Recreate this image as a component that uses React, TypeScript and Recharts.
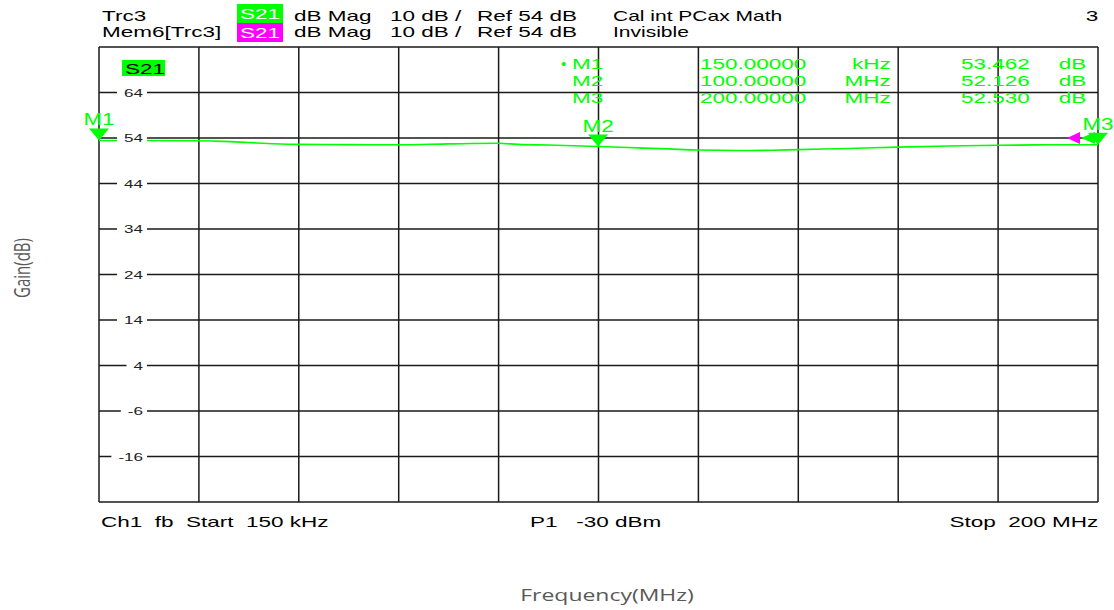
import { LineChart, Line, XAxis, YAxis, ReferenceDot, ReferenceLine } from "recharts";

const W = 1114;
const H = 610;

// trace Trc3 / S21 (frequency in MHz, gain in dB)
const freqMHz = [0.15, 10, 20, 25, 30, 35, 40, 50, 60, 70, 80, 84, 90, 100, 106, 114, 120, 130, 135, 140, 150, 160, 170, 180, 190, 200];
const gainDb = [53.46, 53.44, 53.38, 53.25, 53.0, 52.75, 52.6, 52.55, 52.5, 52.7, 52.85, 52.6, 52.45, 52.13, 51.9, 51.6, 51.35, 51.25, 51.3, 51.45, 51.7, 52.0, 52.25, 52.4, 52.5, 52.53];

// 10 divisions, start 150 kHz / stop 200 MHz, 10 dB/div around ref 54 dB
const freqGrid = [0.15, 20.135, 40.12, 60.105, 80.09, 100.075, 120.06, 140.045, 160.03, 180.015, 200];
const gainGrid = [-26, -16, -6, 4, 14, 24, 34, 44, 54, 64, 74];
const gainLabels = [-16, -6, 4, 14, 24, 34, 44, 54, 64];
const refLevel = 54;

const markerNames = ["M1", "M2", "M3"];
const markerFreqs = [0.15, 100, 200];
const markerGains = [53.462, 52.126, 52.53];
const markerFreqText = ["150.00000", "100.00000", "200.00000"];
const markerUnits = ["kHz", "MHz", "MHz"];
const markerValueText = ["53.462", "52.126", "52.530"];

const data = freqMHz.map((f, i) => ({ f, g: gainDb[i] }));

const GREEN = "#00ff00";
const MAGENTA = "#ff00ff";
const GRID = "#1a1a1a";
const SANS = "'Liberation Sans', Arial, sans-serif";
const SX = 1.5;

// grid value label sitting on its grid line, with a white gap behind it
const GainLabel = ({ cx, cy, value }: any) => {
  const s = String(value);
  const neg = s.startsWith("-") ? 1 : 0;
  const w = ((s.length - neg) * 6.12 + neg * 3.66) * 1.55;
  const right = cx + 44;
  return (
    <g>
      <rect x={right - w - 7} y={cy - 4} width={w + 11} height={8} fill="#fff" />
      <text
        transform={`translate(${right},${cy + 4}) scale(1.55,1)`}
        textAnchor="end"
        fontSize={11}
        fontFamily={SANS}
        fill="#222"
      >
        {s}
      </text>
    </g>
  );
};

const MarkerFlag = ({ cx, cy, name }: any) => (
  <g>
    <polygon points={`${cx - 10},${cy - 12} ${cx + 10},${cy - 12} ${cx},${cy}`} fill={GREEN} />
    <text
      transform={`translate(${cx},${cy - 15}) scale(1.4,1)`}
      textAnchor="middle"
      fontSize={16}
      fontFamily={SANS}
      fill={GREEN}
    >
      {name}
    </text>
  </g>
);

const RefFlag = ({ cx, cy }: any) => (
  <g>
    <polygon points={`${cx - 17},${cy} ${cx - 3},${cy - 6} ${cx - 3},${cy + 6}`} fill={GREEN} />
    <polygon points={`${cx - 31},${cy} ${cx - 18},${cy - 6} ${cx - 18},${cy + 6}`} fill={MAGENTA} />
  </g>
);

const Txt = ({ x, y, text, align = "left", color = "#000", size = 15, sx = SX, font = SANS }: any) => (
  <div
    style={{
      position: "absolute",
      top: y - 0.13 * size,
      ...(align === "left" ? { left: x } : { right: W - x }),
      transform: `scaleX(${sx})`,
      transformOrigin: align === "left" ? "left top" : "right top",
      whiteSpace: "pre",
      fontFamily: font,
      fontSize: size,
      lineHeight: 1,
      color,
    }}
  >
    {text}
  </div>
);

const Tag = ({ x, y, w, h, bg, color, text }: any) => (
  <div style={{ position: "absolute", left: x, top: y, width: w, height: h, background: bg }}>
    <Txt x={3} y={(h - 11) / 2} text={text} color={color} />
  </div>
);

export default function App() {
  return (
    <div style={{ position: "absolute", left: 0, top: 0, width: W, height: H, background: "#fff", overflow: "hidden" }}>
      <LineChart width={W} height={H} data={data} margin={{ top: 47, right: 16, bottom: 108, left: 99 }}>
        <XAxis
          type="number"
          dataKey="f"
          domain={[0.15, 200]}
          ticks={freqGrid}
          tick={false}
          tickLine={false}
          axisLine={false}
          height={0}
          allowDataOverflow
        />
        <YAxis
          type="number"
          domain={[-26, 74]}
          ticks={gainGrid}
          interval={0}
          width={0}
          tick={false}
          tickLine={false}
          axisLine={false}
          allowDataOverflow
        />
        {freqGrid.map((f) => (
          <ReferenceLine key={`v${f}`} x={f} stroke={GRID} strokeWidth={1.5} ifOverflow="visible" />
        ))}
        {gainGrid.map((v) => (
          <ReferenceLine key={`h${v}`} y={v} stroke={GRID} strokeWidth={1.5} ifOverflow="visible" />
        ))}
        {gainLabels.map((v) => (
          <ReferenceDot
            key={`l${v}`}
            x={0.15}
            y={v}
            r={0}
            ifOverflow="visible"
            shape={(p: any) => <GainLabel {...p} value={v} />}
          />
        ))}
        <Line type="monotone" dataKey="g" stroke={GREEN} strokeWidth={1.6} dot={false} isAnimationActive={false} />
        <ReferenceDot x={200} y={refLevel} r={0} ifOverflow="visible" shape={(p: any) => <RefFlag {...p} />} />
        {markerNames.map((name, i) => (
          <ReferenceDot
            key={name}
            x={markerFreqs[i]}
            y={markerGains[i]}
            r={0}
            ifOverflow="visible"
            shape={(p: any) => <MarkerFlag {...p} name={name} />}
          />
        ))}
      </LineChart>

      <div style={{ position: "absolute", left: 0, top: 0, width: W, height: H, pointerEvents: "none" }}>
        {/* header */}
        <Txt x={102} y={10} text="Trc3" />
        <Tag x={237} y={4} w={46} h={19} bg={GREEN} color="#fff" text="S21" />
        <Txt x={294} y={10} text="dB Mag" />
        <Txt x={390} y={10} text="10 dB /" />
        <Txt x={477} y={10} text="Ref 54 dB" />
        <Txt x={613} y={10} text="Cal int PCax Math" sx={1.4} />
        <Txt x={1098} y={10} text="3" align="right" />
        <Txt x={102} y={26} text="Mem6[Trc3]" />
        <Tag x={237} y={23} w={46} h={19} bg={MAGENTA} color="#fff" text="S21" />
        <Txt x={294} y={26} text="dB Mag" />
        <Txt x={390} y={26} text="10 dB /" />
        <Txt x={477} y={26} text="Ref 54 dB" />
        <Txt x={613} y={26} text="Invisible" sx={1.4} />

        {/* trace tag + marker table */}
        <Tag x={122} y={60} w={43} h={16} bg={GREEN} color="#000" text="S21" />
        {markerNames.map((name, i) => (
          <div key={name}>
            {i === 0 && <Txt x={561} y={58} text="•" color={GREEN} sx={1} />}
            <Txt x={572} y={58 + i * 17} text={name} color={GREEN} />
            <Txt x={700} y={58 + i * 17} text={markerFreqText[i]} color={GREEN} />
            <Txt x={891} y={58 + i * 17} text={markerUnits[i]} color={GREEN} align="right" />
            <Txt x={1030} y={58 + i * 17} text={markerValueText[i]} color={GREEN} align="right" />
            <Txt x={1086} y={58 + i * 17} text="dB" color={GREEN} align="right" />
          </div>
        ))}

        {/* footer */}
        <Txt x={101} y={516} text="Ch1  fb  Start  150 kHz" />
        <Txt x={530} y={516} text="P1   -30 dBm" />
        <Txt x={1098} y={516} text="Stop  200 MHz" align="right" />

        {/* axis titles */}
        <div
          style={{
            position: "absolute",
            left: 607,
            top: 594,
            transform: "translate(-50%, -50%) scaleX(1.35)",
            fontFamily: "'Open Sans', sans-serif",
            fontSize: 17,
            color: "#595959",
            whiteSpace: "nowrap",
          }}
        >
          Frequency(MHz)
        </div>
        <div
          style={{
            position: "absolute",
            left: 22,
            top: 268,
            transform: "translate(-50%, -50%) rotate(-90deg) scaleY(1.4)",
            fontFamily: "'Open Sans', sans-serif",
            fontSize: 15,
            color: "#595959",
            whiteSpace: "nowrap",
          }}
        >
          Gain(dB)
        </div>
      </div>
    </div>
  );
}
